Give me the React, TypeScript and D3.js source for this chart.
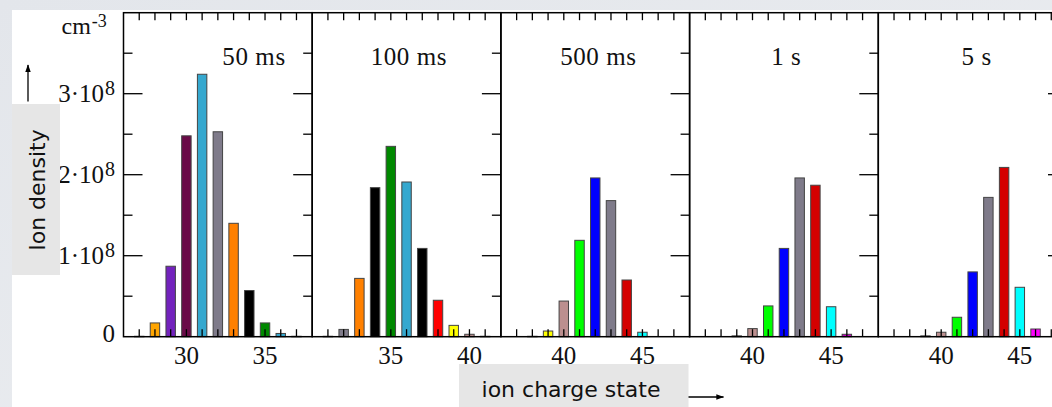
import React from 'react';
import * as d3 from 'd3';

// ---------- data ----------
const panelTitles = ['50 ms', '100 ms', '500 ms', '1 s', '5 s'];
const panelDomains: [number, number][] = [[26, 38], [30, 42], [36, 48], [36, 48], [36, 48]];
const xTickLabels = [[30, 35], [35, 40], [40, 45], [40, 45], [40, 45]];

const states50ms = [27, 28, 29, 30, 31, 32, 33, 34, 35, 36, 37];
const values50ms = [0.005e8, 0.17e8, 0.87e8, 2.48e8, 3.24e8, 2.53e8, 1.40e8, 0.57e8, 0.17e8, 0.04e8, 0.005e8];
const colors50ms = ['#555555', '#FFA500', '#7322BD', '#6A0A48', '#35A8CF', '#7F7B8A', '#FF8000', '#000000', '#008800', '#35A8CF', '#555555'];

const states100ms = [31, 32, 33, 34, 35, 36, 37, 38, 39, 40, 41];
const values100ms = [0.005e8, 0.09e8, 0.72e8, 1.84e8, 2.35e8, 1.91e8, 1.09e8, 0.45e8, 0.14e8, 0.03e8, 0.005e8];
const colors100ms = ['#555555', '#7F7B8A', '#FF8000', '#000000', '#008800', '#35A8CF', '#000000', '#FF0000', '#FFFF00', '#BC8F8F', '#555555'];

const states500ms = [38, 39, 40, 41, 42, 43, 44, 45];
const values500ms = [0.005e8, 0.07e8, 0.44e8, 1.19e8, 1.96e8, 1.68e8, 0.70e8, 0.055e8];
const colors500ms = ['#555555', '#FFFF00', '#BC8F8F', '#00FF00', '#0000FF', '#7F7B8A', '#D40000', '#00FFFF'];

const states1s = [39, 40, 41, 42, 43, 44, 45, 46];
const values1s = [0.01e8, 0.10e8, 0.38e8, 1.09e8, 1.96e8, 1.87e8, 0.37e8, 0.03e8];
const colors1s = ['#555555', '#BC8F8F', '#00FF00', '#0000FF', '#7F7B8A', '#D40000', '#00FFFF', '#CC00CC'];

const states5s = [39, 40, 41, 42, 43, 44, 45, 46];
const values5s = [0.01e8, 0.055e8, 0.24e8, 0.80e8, 1.72e8, 2.09e8, 0.61e8, 0.095e8];
const colors5s = ['#555555', '#BC8F8F', '#00FF00', '#0000FF', '#7F7B8A', '#D40000', '#00FFFF', '#FF00FF'];

const panelStates = [states50ms, states100ms, states500ms, states1s, states5s];
const panelValues = [values50ms, values100ms, values500ms, values1s, values5s];
const panelColors = [colors50ms, colors100ms, colors500ms, colors1s, colors5s];

const yTickValues = [0, 1e8, 2e8, 3e8];
const yTickMantissa = ['0', '1·10', '2·10', '3·10'];
const yTickExponent = ['', '8', '8', '8'];
const yMajorTicks = [1e8, 2e8, 3e8];
const yMinorTicks = [0.5e8, 1.5e8, 2.5e8, 3.5e8];

// ---------- layout ----------
const W = 1052;
const H = 407;
const plotLeft = 123.5;
const plotTop = 12.7;
const plotBottom = 336.7;
const panelW = 188.7;
const titleOffsets = [8.3, 6.15, 6.2, 6.15, 6.25];
const serif = "'Liberation Serif', 'Times New Roman', serif";
const sans = "'DejaVu Sans', Verdana, sans-serif";

const yScale = d3.scaleLinear().domain([0, 4e8]).range([plotBottom, plotTop]);

export default function App() {
  const panels = panelDomains.map((dom, i) => {
    const left = plotLeft + i * panelW;
    const x = d3.scaleLinear().domain(dom).range([left, left + panelW]);
    const unit = x(1) - x(0);
    const bw = unit * 0.6;
    const ints = d3.range(dom[0] + 1, dom[1]);
    return { i, left, right: left + panelW, x, bw, ints, dom };
  });

  return (
    <div style={{ position: 'absolute', left: 0, top: 0 }}>
      <svg width={W} height={H} style={{ display: 'block' }}>
        <defs>
          <linearGradient id="bgGrad" x1="0" y1="0" x2="1" y2="1">
            <stop offset="0" stopColor="#E3E6EB" />
            <stop offset="1" stopColor="#ECEEF1" />
          </linearGradient>
          <marker id="arrowHead" viewBox="0 0 10 10" refX="9" refY="5" markerWidth="8" markerHeight="8" orient="auto-start-reverse" markerUnits="userSpaceOnUse">
            <path d="M0,1.5 L10,5 L0,8.5 Z" fill="#000" />
          </marker>
        </defs>
        <rect x={0} y={0} width={W} height={H} fill="url(#bgGrad)" />
        <rect x={12} y={10} width={W - 12} height={H - 10} fill="#FFFFFF" />

        {panels.map((p) => (
          <g key={'bars' + p.i}>
            {panelStates[p.i].map((s, j) => {
              const v = panelValues[p.i][j];
              const y0 = yScale(v);
              return (
                <rect
                  key={j}
                  x={p.x(s) - p.bw / 2}
                  y={y0}
                  width={p.bw}
                  height={Math.max(plotBottom - y0, 0.5)}
                  fill={panelColors[p.i][j]}
                  stroke="#444"
                  strokeWidth={1}
                />
              );
            })}
          </g>
        ))}

        {panels.map((p) => (
          <g key={'ticks' + p.i} stroke="#000" strokeWidth={1.3}>
            {p.ints.map((c) => (
              <g key={c}>
                <line x1={p.x(c)} x2={p.x(c)} y1={plotBottom} y2={plotBottom - 7.5} />
                <line x1={p.x(c)} x2={p.x(c)} y1={plotTop} y2={plotTop + 7.5} />
              </g>
            ))}
            {yMajorTicks.map((v) => (
              <line key={'M' + v} x1={p.right - 19} x2={p.right} y1={yScale(v)} y2={yScale(v)} />
            ))}
            {yMinorTicks.map((v) => (
              <line key={'m' + v} x1={p.right - 9} x2={p.right} y1={yScale(v)} y2={yScale(v)} />
            ))}
            {p.i === 0 &&
              yMajorTicks.map((v) => (
                <line key={'LM' + v} x1={p.left} x2={p.left + 19} y1={yScale(v)} y2={yScale(v)} />
              ))}
            {p.i === 0 &&
              yMinorTicks.map((v) => (
                <line key={'Lm' + v} x1={p.left} x2={p.left + 9} y1={yScale(v)} y2={yScale(v)} />
              ))}
            <rect x={p.left} y={plotTop} width={panelW} height={plotBottom - plotTop} fill="none" strokeWidth={1.5} />
          </g>
        ))}

        {panels.map((p) => (
          <g key={'labels' + p.i} fontFamily={serif} fill="#111">
            <text x={p.x(p.dom[0] + titleOffsets[p.i])} y={64.5} fontSize={25} textAnchor="middle" letterSpacing={0.6}>
              {panelTitles[p.i]}
            </text>
            {xTickLabels[p.i].map((t) => (
              <text key={t} x={p.x(t)} y={363.5} fontSize={25} textAnchor="middle">
                {t}
              </text>
            ))}
          </g>
        ))}

        <g fontFamily={serif} fill="#111">
          {yTickValues.map((v, k) => (
            <text key={v} x={115} y={v === 0 ? yScale(v) + 5.5 : yScale(v) + 8} fontSize={25} textAnchor="end">
              {yTickMantissa[k]}
              {yTickExponent[k] && (
                <tspan dy={-7} fontSize={20} dx={1}>
                  {yTickExponent[k]}
                </tspan>
              )}
            </text>
          ))}
          <text x={61.5} y={34.3} fontSize={24}>
            cm
            <tspan dy={-7.5} fontSize={18} dx={1}>
              -3
            </tspan>
          </text>
        </g>

        {/* y axis title */}
        <line x1={28} x2={28} y1={101.5} y2={65} stroke="#000" strokeWidth={1.3} markerEnd="url(#arrowHead)" />
        <rect x={12} y={104} width={48} height={171} fill="#E6E6E6" />
        <text
          transform={`translate(44.5, 190) rotate(-90)`}
          fontFamily={sans}
          fontSize={22}
          textAnchor="middle"
          fill="#111"
        >
          Ion density
        </text>

        {/* x axis title */}
        <rect x={459} y={364} width={229.5} height={H - 364} fill="#E6E6E6" />
        <text x={571} y={396.7} fontFamily={sans} fontSize={22} textAnchor="middle" fill="#111">
          ion charge state
        </text>
        <line x1={688.5} x2={723.5} y1={397} y2={397} stroke="#000" strokeWidth={1.3} markerEnd="url(#arrowHead)" />
      </svg>
    </div>
  );
}
